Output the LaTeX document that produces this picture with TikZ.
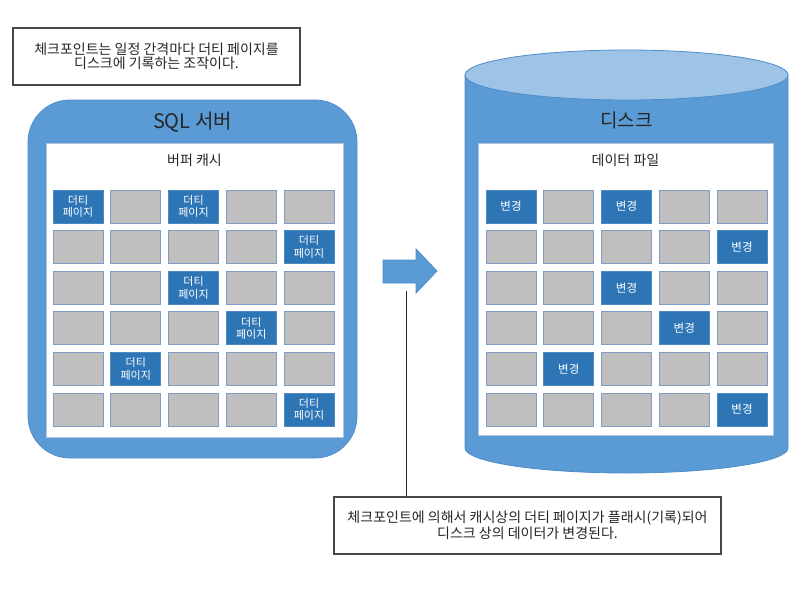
\documentclass[tikz,border=0pt]{standalone}
\usepackage{fontspec}
\setmainfont{Noto Sans CJK KR}
\usetikzlibrary{positioning,calc}
\definecolor{srvblue}{HTML}{5B9BD5}
\definecolor{srvedge}{HTML}{4F8CC9}
\definecolor{lidblue}{HTML}{9DC3E6}
\definecolor{dirtyblue}{HTML}{2E75B6}
\definecolor{pagegray}{HTML}{BFBFBF}
\definecolor{pageedge}{HTML}{7F9DC4}
\definecolor{inkgray}{HTML}{262626}
\newcommand{\cachetextd}{더티\\페이지}
\newcommand{\filetextd}{변경}
\tikzset{
    every picture/.style={line width=0.8pt},
    notebox/.style={draw=inkgray!85,line width=1.1pt,fill=white,text=inkgray,align=center,inner sep=0pt,font=\fontsize{14}{14}\selectfont},
    panel/.style={draw=pageedge!60,fill=white,inner sep=0pt},
    pagecell/.style={draw=pageedge,fill=pagegray,minimum width=50pt,minimum height=33pt,inner sep=0pt},
    dirtycell/.style={pagecell,draw=dirtyblue!85!white,fill=dirtyblue,text=white,align=center,font=\fontsize{11}{12.5}\selectfont},
    cache g/.style={pagecell},
    cache d/.style={dirtycell},
    file g/.style={pagecell},
    file d/.style={dirtycell,font=\fontsize{11.5}{12}\selectfont},
    bigtitle/.style={text=inkgray,font=\fontsize{20}{20}\selectfont},
    paneltitle/.style={text=inkgray,font=\fontsize{14}{14}\selectfont}
}

\begin{document}
\begin{tikzpicture}[x=1pt,y=1pt]
    \useasboundingbox (0,0) rectangle (804,-589);

    % Note on top
    \node[notebox,minimum width=287pt,minimum height=57pt] (note1) at (156.5,-56.5)
        {체크포인트는 일정 간격마다 더티 페이지를\\디스크에 기록하는 조작이다.};

    % SQL server and its buffer cache
    \node[draw=srvedge,fill=srvblue,rounded corners=42pt,minimum width=329pt,minimum height=358pt] (server) at (192.5,-279) {};
    \node[bigtitle] (servername) at (192.5,-122) {SQL 서버};
    \node[panel,minimum width=297pt,minimum height=294pt] (cache) at (194.5,-290) {};
    \node[paneltitle] (cachename) at (194.5,-160) {버퍼 캐시};
    \foreach \t [count=\i from 0,
            evaluate=\i as \row using {int(\i/5)+1},
            evaluate=\i as \col using {int(mod(\i,5))+1}] in
        {d,g,d,g,g, g,g,g,g,d, g,g,d,g,g, g,g,g,d,g, g,d,g,g,g, g,g,g,g,d}
        \node[cache \t] (c\row\col) at ({78+57.75*(\col-1)},{-206.5-40.6*(\row-1)}) {\csname cachetext\t\endcsname};

    % Disk and its data file
    \path[draw=srvedge,fill=srvblue] (465,-75) -- (465,-448)
        arc[start angle=180,end angle=360,x radius=161.5,y radius=25] -- (788,-75) -- cycle;
    \draw[srvedge,fill=lidblue] (626.5,-75) ellipse[x radius=161.5,y radius=25];
    \node[bigtitle,font=\fontsize{19}{20}\selectfont] (diskname) at (626.5,-120) {디스크};
    \node[panel,minimum width=295pt,minimum height=292pt] (datafile) at (625.5,-289) {};
    \node[paneltitle] (filename) at (625.5,-160) {데이터 파일};
    \foreach \t [count=\i from 0,
            evaluate=\i as \row using {int(\i/5)+1},
            evaluate=\i as \col using {int(mod(\i,5))+1}] in
        {d,g,d,g,g, g,g,g,g,d, g,g,d,g,g, g,g,g,d,g, g,d,g,g,g, g,g,g,g,d}
        \node[file \t] (f\row\col) at ({511+57.75*(\col-1)},{-206.5-40.6*(\row-1)}) {\csname filetext\t\endcsname};

    % Flush arrow and its note
    \path[draw=srvedge,fill=srvblue] (383,-260) -- (416,-260) -- (416,-249) -- (437,-271)
        -- (416,-293) -- (416,-283) -- (383,-283) -- cycle;
    \coordinate (flush) at (406,-291);
    \node[notebox,minimum width=387pt,minimum height=57pt,font=\fontsize{14}{16}\selectfont] (note2) at (527.5,-525.5)
        {체크포인트에 의해서 캐시상의 더티 페이지가 플래시(기록)되어\\디스크 상의 데이터가 변경된다.};
    \draw[inkgray,line width=1pt] (flush) -- (flush |- note2.north);
\end{tikzpicture}
\end{document}
